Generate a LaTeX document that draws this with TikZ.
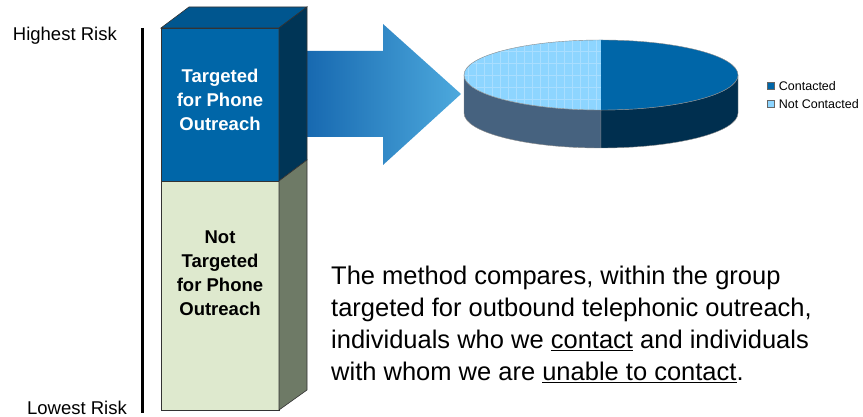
\documentclass[tikz,border=0pt]{standalone}
\usepackage{fontspec}
\setmainfont{Liberation Sans}
\usetikzlibrary{positioning}
\definecolor{colBlue}{HTML}{0066A8}
\definecolor{colTop}{HTML}{00568F}
\definecolor{colSide}{HTML}{003556}
\definecolor{colGreen}{HTML}{DEE9CE}
\definecolor{colGreenSide}{HTML}{6E7A66}
\definecolor{arrowL}{HTML}{1566AE}
\definecolor{arrowR}{HTML}{4DA9DD}
\definecolor{pieLight}{HTML}{8DD5FF}
\definecolor{pieGrid}{HTML}{A9DEFF}
\definecolor{pieDark}{HTML}{0066A8}
\definecolor{pieSideL}{HTML}{46627F}
\definecolor{pieSideR}{HTML}{002F4F}
\tikzset{
  face/.style={draw=black!80, line width=0.6pt},
  boxtext/.style={font=\fontsize{18.5}{24}\selectfont\bfseries, align=center, inner sep=0},
  risktext/.style={font=\fontsize{18.5}{22}\selectfont, inner sep=0},
  legbox/.style={draw=black!60, line width=0.4pt, minimum size=7pt, inner sep=0},
  legtext/.style={font=\fontsize{12.5}{14}\selectfont, inner sep=0},
  gridline/.style={pieGrid, line width=0.7pt}
}
\begin{document}
\begin{tikzpicture}[x=1pt, y=1pt]
    \useasboundingbox (0,0) rectangle (863,417);

    % Risk axis
    \coordinate (axisTop) at (142,389);
    \coordinate (axisBot) at (142,4);
    \draw[line width=3pt] (axisTop) -- (axisBot);
    \node[risktext, anchor=east] (hiRisk) at (117,381) {Highest Risk};
    \node[risktext, anchor=east] (loRisk) at (127,9) {Lowest Risk};

    % Arrow
    \shade[left color=arrowL, right color=arrowR]
        (300,280) -- (383,280) -- (383,252) -- (461,323) -- (383,393) -- (383,366) -- (300,366) -- cycle;

    % Column
    \fill[colGreen, face] (161,7) rectangle (279,236);
    \fill[colBlue, face] (161,236) rectangle (279,389);
    \fill[colTop, face] (161,389) -- (189,410) -- (307,410) -- (279,389) -- cycle;
    \fill[colSide, face] (279,389) -- (307,410) -- (307,257) -- (279,236) -- cycle;
    \fill[colGreenSide, face] (279,236) -- (307,257) -- (307,27) -- (279,7) -- cycle;
    \node[boxtext, text=white] (targeted) at (220,317) {Targeted\\for Phone\\Outreach};
    \node[boxtext] (notTargeted) at (220,144) {Not\\Targeted\\for Phone\\Outreach};

    % Pie: sides
    \fill[pieSideL, draw=black!45, line width=0.4pt] (464,342) -- (464,304)
        arc[start angle=180, end angle=270, x radius=137, y radius=35] -- (601,307)
        arc[start angle=270, end angle=180, x radius=137, y radius=35] -- cycle;
    \fill[pieSideR, draw=black!45, line width=0.4pt] (601,307) -- (601,269)
        arc[start angle=270, end angle=360, x radius=137, y radius=35] -- (738,342)
        arc[start angle=0, end angle=-90, x radius=137, y radius=35] -- cycle;
    % Pie: top
    \fill[pieLight] (601,377) arc[start angle=90, end angle=270, x radius=137, y radius=35] -- cycle;
    \begin{scope}
        \clip (601,377) arc[start angle=90, end angle=270, x radius=137, y radius=35] -- cycle;
        \foreach \gx in {468,476,...,600} {
            \draw[gridline] (\gx,300) -- (\gx,380);
        }
        \foreach \gy in {318,330,...,378} {
            \draw[gridline] (460,\gy) -- (601,\gy);
        }
    \end{scope}
    \fill[pieDark] (601,307) arc[start angle=-90, end angle=90, x radius=137, y radius=35] -- cycle;
    \draw[black!45, line width=0.4pt] (601,342) ellipse[x radius=137, y radius=35];

    % Legend
    \node[legbox, fill=pieDark] (sqC) at (771,331) {};
    \node[legtext, right=4pt of sqC] (legC) {Contacted};
    \node[legbox, fill=pieLight] (sqN) at (771,313) {};
    \node[legtext, right=4pt of sqN] (legN) {Not Contacted};

    % Method text
    \node[anchor=north west, align=left, inner sep=0, font=\fontsize{25.5}{32}\selectfont] (method) at (331,151)
        {The method compares, within the group\\
         targeted for outbound telephonic outreach,\\
         individuals who we \underline{contact} and individuals\\
         with whom we are \underline{unable to contact}.};
\end{tikzpicture}
\end{document}
